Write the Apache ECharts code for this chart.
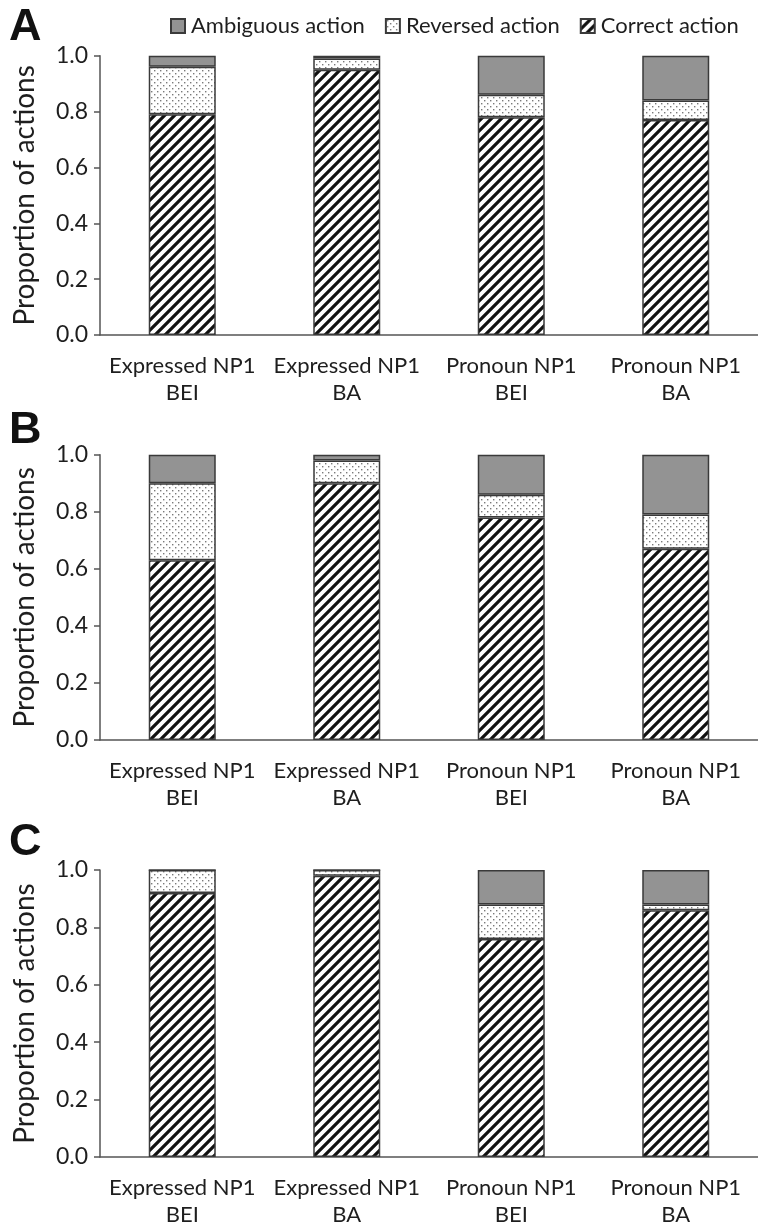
<!DOCTYPE html>
<html><head><meta charset="utf-8">
<script src="https://cdn.jsdelivr.net/npm/echarts@6/dist/echarts.min.js"></script>
<style>html,body{margin:0;padding:0;background:#fff}#c{width:758px;height:1228px}</style>
</head><body><div id="c"></div>
<script>
// ---- data ----
const categories = ['Expressed NP1\nBEI', 'Expressed NP1\nBA', 'Pronoun NP1\nBEI', 'Pronoun NP1\nBA'];
const panelLabels = ['A', 'B', 'C'];
const seriesNames = ['Correct action', 'Reversed action', 'Ambiguous action'];
const legendOrder = ['Ambiguous action', 'Reversed action', 'Correct action'];
const yTicks = [0, 0.2, 0.4, 0.6, 0.8, 1.0];
const correctA = [0.79, 0.95, 0.78, 0.77];
const reversedA = [0.17, 0.04, 0.08, 0.07];
const ambiguousA = [0.04, 0.01, 0.14, 0.16];
const correctB = [0.63, 0.90, 0.78, 0.67];
const reversedB = [0.27, 0.08, 0.08, 0.12];
const ambiguousB = [0.10, 0.02, 0.14, 0.21];
const correctC = [0.92, 0.98, 0.76, 0.86];
const reversedC = [0.08, 0.02, 0.12, 0.02];
const ambiguousC = [0, 0, 0.12, 0.12];
const panels = [
  [correctA, reversedA, ambiguousA],
  [correctB, reversedB, ambiguousB],
  [correctC, reversedC, ambiguousC]
];

// ---- styles ----
const FONT = 'Lato';
const TXT = '#1e1e1e';
const AX = '#555';
function hatch() {
  const c = document.createElement('canvas'); c.width = 10; c.height = 10;
  const g = c.getContext('2d');
  g.fillStyle = '#fff'; g.fillRect(0, 0, 10, 10);
  g.strokeStyle = '#111'; g.lineWidth = 3.2; g.beginPath();
  g.moveTo(-5, 5); g.lineTo(5, -5);
  g.moveTo(0, 10); g.lineTo(10, 0);
  g.moveTo(5, 15); g.lineTo(15, 5);
  g.stroke();
  return c;
}
function stipple() {
  const c = document.createElement('canvas'); c.width = 6; c.height = 6;
  const g = c.getContext('2d');
  g.fillStyle = '#fff'; g.fillRect(0, 0, 6, 6);
  g.fillStyle = '#7a7a7a';
  g.fillRect(1, 1, 1.4, 1.4); g.fillRect(4, 4, 1.4, 1.4);
  return c;
}
const fills = [
  { image: hatch(), repeat: 'repeat' },
  { image: stipple(), repeat: 'repeat' },
  '#939393'
];
const grids = [
  { left: 100, width: 663, top: 55.7, height: 279.3 },
  { left: 100, width: 663, top: 454.7, height: 285.3 },
  { left: 100, width: 663, top: 870, height: 287.3 }
];
const letterTops = [5, 408, 820];

const option = {
  animation: false,
  backgroundColor: '#fff',
  textStyle: { fontFamily: FONT },
  legend: {
    data: legendOrder, top: 10, left: 165, icon: 'rect', itemWidth: 14, itemHeight: 14, itemGap: 20,
    textStyle: { fontSize: 22, color: TXT, fontFamily: FONT, padding: [0, 0, 0, 1] }
  },
  grid: grids,
  xAxis: grids.map((g, i) => ({
    type: 'category', gridIndex: i, data: categories,
    axisLine: { lineStyle: { color: AX, width: 1.5 } },
    axisTick: { length: 6, lineStyle: { color: AX, width: 1.5 } },
    axisLabel: { fontSize: 22, color: TXT, lineHeight: 27, margin: 17, fontFamily: FONT, interval: 0 }
  })),
  yAxis: grids.map((g, i) => ({
    type: 'value', gridIndex: i, min: yTicks[0], max: yTicks[yTicks.length - 1], interval: 0.2,
    name: 'Proportion of actions', nameLocation: 'middle', nameGap: 61,
    nameTextStyle: { fontSize: 28, color: TXT, fontFamily: FONT },
    axisLine: { show: true, lineStyle: { color: AX, width: 1.5 } },
    axisTick: { show: true, length: 6, lineStyle: { color: AX, width: 1.5 } },
    splitLine: { show: false },
    axisLabel: { fontSize: 23, color: TXT, margin: 12, fontFamily: FONT, formatter: v => v.toFixed(1) }
  })),
  graphic: panelLabels.map((t, i) => ({
    type: 'text', left: 9, top: letterTops[i],
    style: { text: t, font: 'bold 45px "Liberation Sans", Arial, sans-serif', fill: '#111' }
  })),
  series: []
};
panels.forEach((vals, p) => {
  vals.forEach((arr, s) => {
    option.series.push({
      type: 'bar', name: seriesNames[s], xAxisIndex: p, yAxisIndex: p, stack: 'p' + p,
      barWidth: 67, data: arr,
      itemStyle: { color: fills[s], borderColor: '#3a3a3a', borderWidth: 1.5 }
    });
  });
});
const chart = echarts.init(document.getElementById('c'), null, { renderer: 'canvas' });
chart.setOption(option);
</script></body></html>
